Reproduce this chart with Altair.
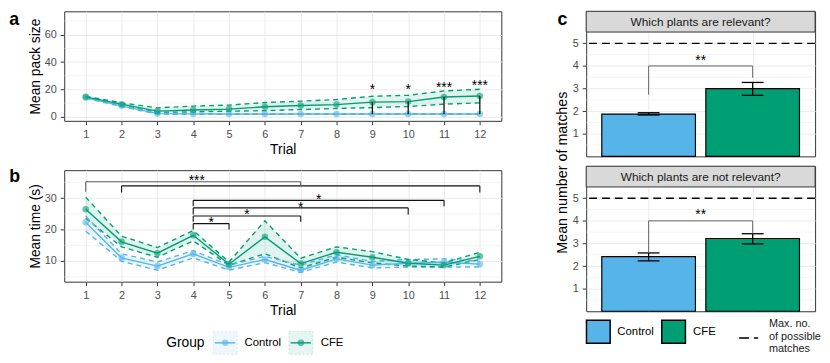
import altair as alt
import pandas as pd

FONT = "Liberation Sans"
groups = ["Control", "CFE"]
group_colors = ["#56B4E9", "#009E73"]
trials = list(range(1, 13))

# ---- Panel a: mean pack size ----
pack_ctrl = [14.0, 8.0, 2.3, 2.1, 2.0, 2.0, 2.0, 2.0, 2.0, 2.0, 2.0, 2.0]
pack_ctrl_lo = [13.5, 7.5, 1.9, 1.8, 1.8, 1.8, 1.8, 1.8, 1.8, 1.8, 1.8, 1.8]
pack_ctrl_hi = [14.5, 8.5, 2.7, 2.4, 2.2, 2.2, 2.2, 2.2, 2.2, 2.2, 2.2, 2.2]
pack_cfe = [14.6, 9.2, 4.1, 4.9, 5.6, 7.3, 8.2, 8.9, 10.7, 11.1, 14.5, 15.2]
pack_cfe_lo = [14.2, 8.5, 3.1, 3.6, 4.1, 4.4, 5.3, 6.0, 6.7, 7.5, 9.2, 10.2]
pack_cfe_hi = [15.0, 10.2, 6.5, 7.8, 8.5, 10.4, 11.4, 12.6, 15.0, 15.7, 18.9, 20.1]

sig_a_trials = [9, 10, 11, 12]
sig_a_labels = ["*", "*", "***", "***"]
sig_a_label_y = [22.3, 22.3, 24.2, 25.4]

# ---- Panel b: mean time ----
time_ctrl = [22.3, 11.0, 8.4, 12.3, 8.0, 10.5, 7.1, 10.7, 8.7, 9.3, 9.6, 9.0]
time_ctrl_lo = [19.5, 9.9, 7.1, 11.0, 7.1, 9.5, 6.4, 9.7, 7.8, 8.1, 8.1, 8.1]
time_ctrl_hi = [24.3, 12.3, 9.7, 13.3, 8.7, 11.5, 8.7, 12.0, 9.9, 10.5, 10.7, 9.9]
time_cfe = [26.5, 16.1, 12.5, 18.2, 9.0, 17.7, 9.2, 12.8, 11.2, 9.3, 8.7, 11.5]
time_cfe_lo = [23.6, 14.5, 11.2, 16.4, 8.7, 12.3, 7.8, 11.2, 9.4, 8.4, 8.1, 10.5]
time_cfe_hi = [30.3, 17.9, 14.3, 19.7, 9.7, 22.8, 10.9, 14.5, 13.0, 10.5, 9.4, 12.8]

br_b_from = [1, 2, 4, 4, 4, 4]
br_b_to = [7, 12, 11, 10, 7, 5]
br_b_y = [35.2, 33.9, 29.3, 26.9, 24.3, 21.9]
br_b_left_end = [32.0, 31.8, 27.4, 24.8, 22.5, 20.0]
br_b_right_end = [33.9, 31.8, 27.4, 24.8, 22.5, 20.0]
br_b_labels = ["***", "", "*", "*", "*", "*"]
br_b_label_x = [4.1, 7.0, 7.5, 7.0, 5.5, 4.5]
br_b_label_y = [36.8, 35.5, 30.8, 28.2, 25.9, 23.4]
br_b_colors = ["#5E5E5E", "#111111", "#111111", "#111111", "#111111", "#111111"]

# ---- Panel c: mean number of matches ----
questions = ["Which plants are relevant?", "Which plants are not relevant?"]
match_rel_mean = [1.87, 3.00]
match_rel_lo = [1.83, 2.70]
match_rel_hi = [1.93, 3.27]
match_not_mean = [2.42, 3.22]
match_not_lo = [2.23, 2.98]
match_not_hi = [2.58, 3.43]
max_matches = 5
c_bracket_y = [4.0, 4.0]
c_bracket_left_end = [2.73, 2.60]
c_bracket_right_end = [3.48, 3.43]
c_labels = ["**", "**"]
c_label_y = [4.40, 4.41]

color_enc = alt.Color("group:N", scale=alt.Scale(domain=groups, range=group_colors), legend=None)


def label(text, x, y, size, weight="normal", align="left", baseline="middle", color="black", angle=0):
    kw = dict(fontSize=size, fontWeight=weight, align=align, baseline=baseline, color=color)
    if angle:
        kw["angle"] = angle
    return alt.Chart(pd.DataFrame({"t": [text]})).mark_text(**kw).encode(
        x=alt.value(x), y=alt.value(y), text="t:N")


def long_df(c, clo, chi, f, flo, fhi):
    rows = []
    for g, m, lo, hi in [("Control", c, clo, chi), ("CFE", f, flo, fhi)]:
        for t, a, b, d in zip(trials, m, lo, hi):
            rows.append(dict(trial=t, group=g, mean=a, lo=b, hi=d))
    return pd.DataFrame(rows)


xs_tr = alt.Scale(domain=[0.4, 12.6], nice=False, zero=False)


def trial_panel(df, ydom, yvals, yminor, ytitle, height, letter, letter_y, extra):
    ys = alt.Scale(domain=ydom, nice=False, zero=False)
    xax = alt.Axis(values=trials, format="d", title="Trial", grid=True, labelFlush=False, titlePadding=3)
    yax = alt.Axis(values=yvals, title=ytitle, grid=True, labelFlush=False, titlePadding=2)

    def X(f):
        return alt.X(f"{f}:Q", scale=xs_tr, axis=xax)

    def Y(f):
        return alt.Y(f"{f}:Q", scale=ys, axis=yax)

    base = alt.Chart(df)
    layers = [
        alt.Chart(pd.DataFrame({"v": yminor})).mark_rule(color="#EBEBEB", strokeWidth=0.5).encode(y=Y("v")),
        base.mark_area(opacity=0.12).encode(
            x=X("trial"), y=alt.Y("lo:Q", scale=ys, axis=yax, stack=None), y2="hi:Q", color=color_enc),
        base.mark_line(strokeDash=[5, 4], strokeWidth=1.4).encode(x=X("trial"), y=Y("lo"), color=color_enc),
        base.mark_line(strokeDash=[5, 4], strokeWidth=1.4).encode(x=X("trial"), y=Y("hi"), color=color_enc),
        base.mark_line(strokeWidth=1.4).encode(x=X("trial"), y=Y("mean"), color=color_enc),
        base.mark_circle(size=44, opacity=0.6).encode(x=X("trial"), y=Y("mean"), color=color_enc),
    ]
    layers += extra(X, Y)
    layers.append(label(letter, -55.7, letter_y, 18, weight="bold", baseline="alphabetic"))
    return alt.layer(*layers).properties(width=443, height=height)


def extra_a(X, Y):
    df = pd.DataFrame({
        "trial": sig_a_trials,
        "ctrl": [pack_ctrl[t - 1] for t in sig_a_trials],
        "cfe": [pack_cfe[t - 1] for t in sig_a_trials],
        "lab": sig_a_labels,
        "ly": sig_a_label_y,
    })
    return [
        alt.Chart(df).mark_rule(color="black", strokeWidth=1.2).encode(x=X("trial"), y=Y("ctrl"), y2="cfe:Q"),
        alt.Chart(df).mark_text(fontSize=14, dy=8, baseline="alphabetic", color="black").encode(
            x=X("trial"), y=Y("ly"), text="lab:N"),
    ]


def extra_b(X, Y):
    df = pd.DataFrame({
        "x1": br_b_from, "x2": br_b_to, "y": br_b_y,
        "yl": br_b_left_end, "yr": br_b_right_end,
        "lab": br_b_labels, "lx": br_b_label_x, "ly": br_b_label_y, "col": br_b_colors,
    })
    col = alt.Color("col:N", scale=None)
    layers = [
        alt.Chart(df).mark_rule(strokeWidth=1.1).encode(x=X("x1"), x2="x2:Q", y=Y("y"), color=col),
        alt.Chart(df).mark_rule(strokeWidth=1.1).encode(x=X("x1"), y=Y("y"), y2="yl:Q", color=col),
        alt.Chart(df).mark_rule(strokeWidth=1.1).encode(x=X("x2"), y=Y("y"), y2="yr:Q", color=col),
        alt.Chart(df).mark_text(fontSize=14, dy=8, baseline="alphabetic", color="black").encode(
            x=X("lx"), y=Y("ly"), text="lab:N"),
    ]
    # legend (Group)
    layers.append(label("Group", 103.3, 175.7, 14))
    key_x = [151.0, 227.7]
    text_x = [182.7, 260.0]
    for g, c, kx, tx in zip(groups, group_colors, key_x, text_x):
        d = pd.DataFrame({"group": [g]})
        layers.append(alt.Chart(d).mark_rect(fill=c, fillOpacity=0.1, stroke=c, strokeOpacity=0.25,
                                             strokeDash=[2, 2], strokeWidth=0.8).encode(
            x=alt.value(kx), x2=alt.value(kx + 24.3), y=alt.value(163.4), y2=alt.value(186.7)))
        layers.append(alt.Chart(d).mark_rule(color=c, strokeWidth=1.4).encode(
            x=alt.value(kx + 1.7), x2=alt.value(kx + 22.3), y=alt.value(175)))
        layers.append(alt.Chart(d).mark_circle(color=c, size=44, opacity=0.6).encode(
            x=alt.value(kx + 12.1), y=alt.value(175)))
        layers.append(label(g, tx, 175.7, 11.5))
    return layers


panel_a = trial_panel(long_df(pack_ctrl, pack_ctrl_lo, pack_ctrl_hi, pack_cfe, pack_cfe_lo, pack_cfe_hi),
                      [-3.0, 77.2], [0, 20, 40, 60], [10, 30, 50, 70], "Mean pack size", 111, "a", 14, extra_a)
panel_b = trial_panel(long_df(time_ctrl, time_ctrl_lo, time_ctrl_hi, time_cfe, time_cfe_lo, time_cfe_hi),
                      [3.44, 38.9], [10, 20, 30], [5, 15, 25, 35], "Mean time (s)", 113, "b", 12.4, extra_b)

STRIP = 21
C_PLOT = 126
C_TOP = 5.5 * (C_PLOT + STRIP) / C_PLOT


def match_panel(q, means, los, his, k, first):
    df = pd.DataFrame({"group": groups, "idx": [1, 2], "mean": means, "lo": los, "hi": his})
    xs = alt.Scale(domain=[0.4, 2.6], nice=False, zero=False)
    ys = alt.Scale(domain=[0, C_TOP], nice=False, zero=False)
    xax = alt.Axis(values=[1, 2], grid=True, labels=False, ticks=False, domain=False, title=None)
    yax = alt.Axis(values=[1, 2, 3, 4, 5], grid=True, title=None, labelFlush=False)

    def X(f):
        return alt.X(f"{f}:Q", scale=xs, axis=xax)

    def Y(f):
        return alt.Y(f"{f}:Q", scale=ys, axis=yax)

    base = alt.Chart(df)
    br = pd.DataFrame({"x1": [1], "x2": [2], "y": [c_bracket_y[k]], "yl": [c_bracket_left_end[k]],
                       "yr": [c_bracket_right_end[k]], "lab": [c_labels[k]], "lx": [1.5], "ly": [c_label_y[k]]})
    layers = [
        alt.Chart(pd.DataFrame({"v": [0.5, 1.5, 2.5, 3.5, 4.5]})).mark_rule(
            color="#EBEBEB", strokeWidth=0.5).encode(y=Y("v")),
        base.transform_calculate(x0="datum.idx - 0.45", x1="datum.idx + 0.45").mark_rect(
            stroke="black", strokeWidth=1.2).encode(x=X("x0"), x2="x1:Q", y=Y("mean"), y2=alt.datum(0),
                                                   color=color_enc),
        base.mark_rule(color="black", strokeWidth=1.3).encode(x=X("idx"), y=Y("lo"), y2="hi:Q"),
        base.transform_calculate(c0="datum.idx - 0.105", c1="datum.idx + 0.105").mark_rule(
            color="black", strokeWidth=1.3).encode(x=X("c0"), x2="c1:Q", y=Y("lo")),
        base.transform_calculate(c0="datum.idx - 0.105", c1="datum.idx + 0.105").mark_rule(
            color="black", strokeWidth=1.3).encode(x=X("c0"), x2="c1:Q", y=Y("hi")),
        alt.Chart(pd.DataFrame({"m": [max_matches]})).mark_rule(
            color="black", strokeWidth=1.4, strokeDash=[8, 5]).encode(y=Y("m")),
        alt.Chart(br).mark_rule(color="#666666", strokeWidth=1).encode(x=X("x1"), x2="x2:Q", y=Y("y")),
        alt.Chart(br).mark_rule(color="#666666", strokeWidth=1).encode(x=X("x1"), y=Y("y"), y2="yl:Q"),
        alt.Chart(br).mark_rule(color="#666666", strokeWidth=1).encode(x=X("x2"), y=Y("y"), y2="yr:Q"),
        alt.Chart(br).mark_text(fontSize=14, dy=8, baseline="alphabetic", color="black").encode(
            x=X("lx"), y=Y("ly"), text="lab:N"),
        # facet strip
        alt.Chart(pd.DataFrame({"q": [q]})).mark_rect(fill="#D9D9D9", stroke="#333333", strokeWidth=1).encode(
            x=alt.value(0), x2=alt.value(232), y=alt.value(0), y2=alt.value(STRIP)),
        label(q, 116, STRIP / 2, 12, align="center", color="#1A1A1A"),
    ]
    if first:
        layers.append(label("c", -29, 14, 18, weight="bold", baseline="alphabetic"))
        layers.append(label("Mean number of matches", -23.2, 163.5, 14.5, align="center", angle=270))
    else:
        box_x = [0.3, 76.6]
        txt_x = [31.6, 108.3]
        for g, c, bx, tx in zip(groups, group_colors, box_x, txt_x):
            d = pd.DataFrame({"group": [g]})
            layers.append(alt.Chart(d).mark_rect(fill=c, stroke="black", strokeWidth=1.5).encode(
                x=alt.value(bx), x2=alt.value(bx + 24), y=alt.value(156), y2=alt.value(179.3)))
            layers.append(label(g, tx, 167.7, 11.5))
        layers.append(alt.Chart(pd.DataFrame({"m": [max_matches]})).mark_rule(
            color="black", strokeWidth=1.5, strokeDash=[10, 5]).encode(
            x=alt.value(155), x2=alt.value(174.3), y=alt.value(174)))
        for line, yy in zip(["Max. no.", "of possible", "matches"], [160, 172.7, 185.7]):
            layers.append(label(line, 185.3, yy, 11, color="#1A1A1A"))
    return alt.layer(*layers).properties(width=232, height=C_PLOT + STRIP)


c1 = match_panel(questions[0], match_rel_mean, match_rel_lo, match_rel_hi, 0, True)
c2 = match_panel(questions[1], match_not_mean, match_not_lo, match_not_hi, 1, False)

left = alt.vconcat(panel_a, panel_b, spacing=10)
right = alt.vconcat(c1, c2, spacing=10, bounds="flush")

chart = alt.hconcat(left, right, spacing=53).properties(
    padding={"left": 0, "top": 0, "right": 0, "bottom": 0}
).configure(font=FONT).configure_view(
    stroke="#333333", strokeWidth=1
).configure_axis(
    labelFont=FONT, titleFont=FONT, labelFontSize=11, titleFontSize=14,
    labelColor="#4D4D4D", titleColor="black", titleFontWeight="normal",
    tickColor="#333333", tickSize=4, tickWidth=1, labelPadding=4,
    domain=False, gridColor="#EBEBEB", gridWidth=1,
)

chart.save("out.html", embed_options={"renderer": "svg", "actions": False})
